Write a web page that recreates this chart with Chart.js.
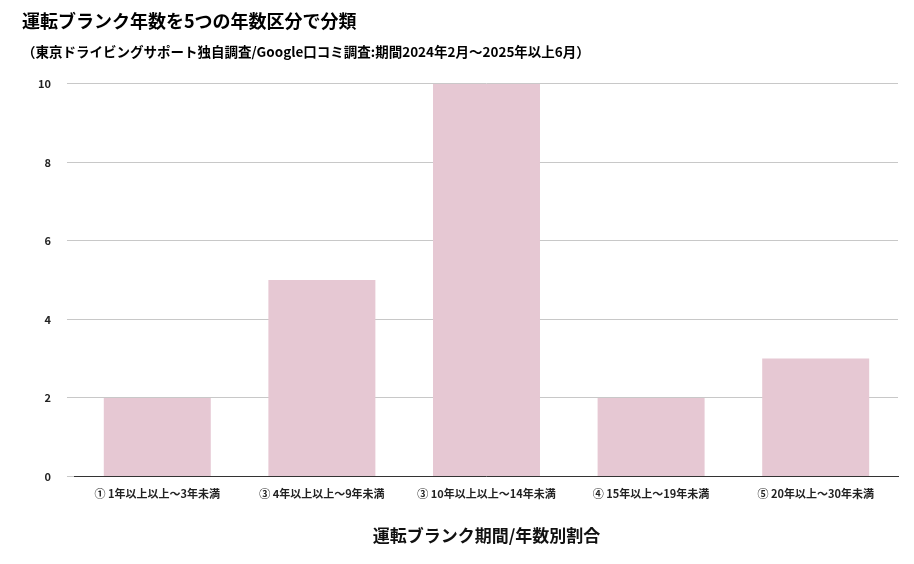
<!DOCTYPE html>
<html><head><meta charset="utf-8">
<script src="https://cdn.jsdelivr.net/npm/chart.js@4/dist/chart.umd.min.js"></script>
<style>html,body{margin:0;padding:0;background:#fff}#w{width:914px;height:564px}</style>
</head><body><div id="w"><canvas id="c"></canvas></div>
<script>
const categories = ["① 1年以上以上〜3年未満","③ 4年以上以上〜9年未満","③ 10年以上以上〜14年未満","④ 15年以上〜19年未満","⑤ 20年以上〜30年未満"];
const values = [2,5,10,2,3];
const titleText = "運転ブランク年数を5つの年数区分で分類";
const subtitleText = "（東京ドライビングサポート独自調査/Google口コミ調査:期間2024年2月〜2025年以上6月）";
const xTitle = "運転ブランク期間/年数別割合";
const F = "'Noto Sans CJK JP', 'Liberation Sans', sans-serif";
new Chart(document.getElementById('c'), {
  type: 'bar',
  data: { labels: categories, datasets: [{ data: values, backgroundColor: '#e6c8d3', categoryPercentage: 0.65, barPercentage: 1 }] },
  options: {
    responsive: true, maintainAspectRatio: false, animation: false,
    layout: { padding: { left: 22, right: 16, top: 10, bottom: 14 } },
    plugins: {
      legend: { display: false }, tooltip: { enabled: false },
      title: { display: true, text: titleText, align: 'start', color: '#000', font: { family: F, size: 18, weight: 'bold' }, padding: { top: 0, bottom: 12 } },
      subtitle: { display: true, text: subtitleText, align: 'start', color: '#000', font: { family: F, size: 13.5, weight: 'bold' }, padding: { bottom: 24 } }
    },
    scales: {
      x: { grid: { display: false }, border: { color: '#333' },
           ticks: { color: '#222', font: { family: F, size: 11, weight: 'bold' }, maxRotation: 0, autoSkip: false },
           title: { display: true, text: xTitle, color: '#111', font: { family: F, size: 17, weight: 'bold' }, padding: { top: 22 } } },
      y: { min: 0, max: 10, ticks: { stepSize: 2, color: '#222', font: { family: F, size: 11, weight: 'bold' }, padding: 16 },
           grid: { color: '#c8c8c8' }, border: { display: false } }
    }
  }
});
</script></body></html>
